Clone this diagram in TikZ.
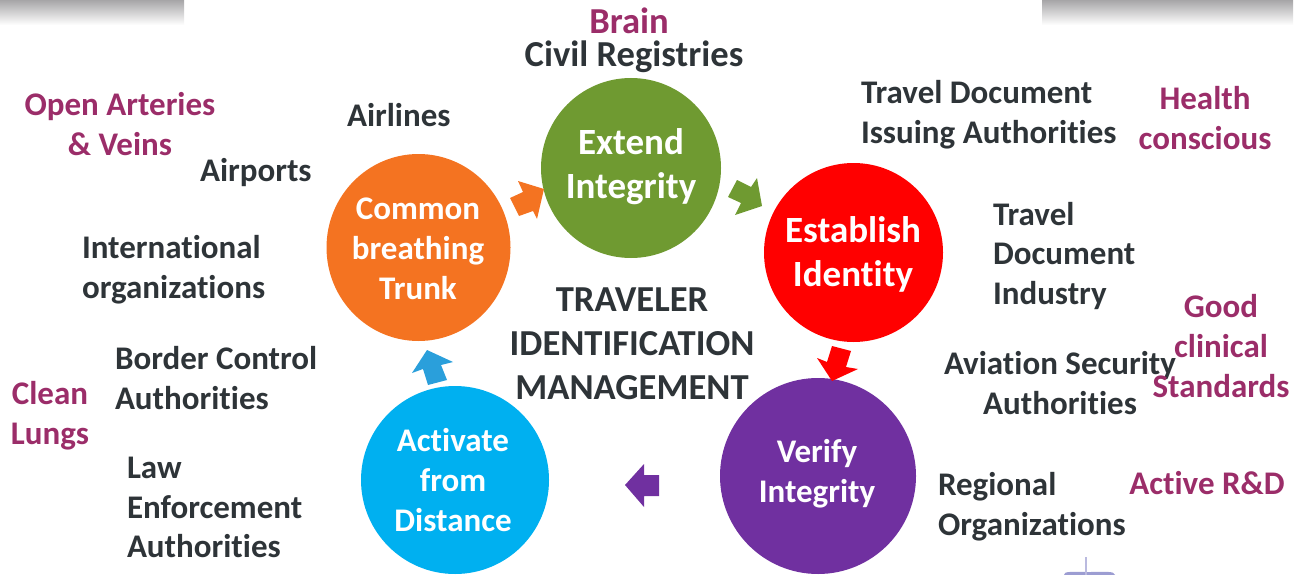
\documentclass[tikz,border=0pt]{standalone}
\usepackage{fontspec}
\setmainfont[Ligatures=CommonOff]{Carlito}
\definecolor{darktxt}{HTML}{2E3438}
\definecolor{maroon}{HTML}{9B2D69}
\definecolor{cgreen}{HTML}{6F9A31}
\definecolor{corange}{HTML}{F47321}
\definecolor{cred}{HTML}{FF0000}
\definecolor{cpurple}{HTML}{7030A0}
\definecolor{cblue}{HTML}{00B0F0}
\definecolor{cbluearrow}{HTML}{2A9FDB}
\definecolor{bandgray}{HTML}{A6A5A7}
\definecolor{emblem}{HTML}{9C9DD2}
\tikzset{
  x=1pt,y=-1pt,
  every node/.style={inner sep=0pt,outer sep=0pt},
  hubbig/.style={text=white,font=\fontsize{37}{44}\selectfont\bfseries,align=center},
  hubsmall/.style={text=white,font=\fontsize{33}{40}\selectfont\bfseries,align=center},
  lab/.style={text=darktxt,font=\fontsize{33}{39.8}\selectfont\bfseries,align=left,anchor=west},
  labc/.style={lab,align=center,anchor=center},
  titletext/.style={text=darktxt,font=\fontsize{36.6}{44}\selectfont\bfseries,align=center},
  redlab/.style={text=maroon,font=\fontsize{33}{39.8}\selectfont\bfseries,align=center,anchor=center}
}
\begin{document}
\begin{tikzpicture}
\useasboundingbox (0,0) rectangle (1303,575);
\shade[top color=bandgray,bottom color=white] (0,0) rectangle (184,25);
\shade[top color=bandgray,bottom color=white] (1042,0) rectangle (1293,25);
% circles
\fill[cgreen] (631,168) circle (90);
\fill[cred] (853.5,252.5) circle (89.5);
\fill[corange] (418.5,247.5) ellipse (92 and 93.5);
\fill[cpurple] (818,476) circle (98);
\fill[cblue] (455,480) circle (94);
% arrows
\fill[corange] (544,189)--(518,181)--(523,192)--(510,198)--(519,216)--(533,211)--(537,219)--cycle;
\fill[cgreen] (762,206)--(757,178)--(751,187)--(737,180)--(728,197)--(741,203)--(735,215)--cycle;
\fill[cred] (832,381)--(858,369)--(846,367)--(851,351)--(832,346)--(827,362)--(817,358)--cycle;
\fill[cpurple] (625,485)--(644,464)--(644,475)--(659,475)--(659,496)--(644,496)--(644,507)--cycle;
\fill[cbluearrow] (427,350)--(453,362)--(441,365)--(447,380)--(428,385)--(423,369)--(412,373)--cycle;
% hub text
\node[hubbig] (n1) at (631,167) {Extend\\Integrity};
\node[hubbig] (n2) at (853,254) {Establish\\Identity};
\node[hubsmall] (n3) at (817,474) {Verify\\Integrity};
\node[hubsmall] (n4) at (453,480) {Activate\\from\\Distance};
\node[hubsmall] (n5) at (418,249) {Common\\breathing\\Trunk};
% centre
\node[titletext] (c) at (632,343.5) {TRAVELER\\IDENTIFICATION\\MANAGEMENT};
% labels
\node[titletext] (l1) at (634,57) {Civil Registries};
\node[lab] (l2) at (347,115) {Airlines};
\node[lab] (l3) at (200,173) {Airports};
\node[lab] (l4) at (82,270) {International\\organizations};
\node[lab] (l5) at (115,378) {Border Control\\Authorities};
\node[lab] (l6) at (127,507.5) {Law\\Enforcement\\Authorities};
\node[lab] (l7) at (861,115) {Travel Document\\Issuing Authorities};
\node[lab] (l8) at (993,256) {Travel\\Document\\Industry};
\node[labc] (l9) at (1060,383) {Aviation Security\\Authorities};
\node[lab] (l10) at (938,507) {Regional\\Organizations};
% maroon
\node[titletext,text=maroon] (m1) at (629,21) {Brain};
\node[redlab] (m2) at (120,124) {Open Arteries\\\& Veins};
\node[redlab] (m3) at (50,416) {Clean\\Lungs};
\node[redlab] (m4) at (1205,118) {Health\\conscious};
\node[redlab] (m5) at (1221,346) {Good\\clinical\\Standards};
\node[redlab] (m6) at (1207,483) {Active R\&D};
% emblem
\fill[emblem] (1064,575) .. controls (1064,571) and (1070,572) .. (1089,572) .. controls (1108,572) and (1114,571) .. (1115,575) -- cycle;
\draw[emblem!70,line width=1.5] (1086,557) -- (1086,575);
\end{tikzpicture}
\end{document}
